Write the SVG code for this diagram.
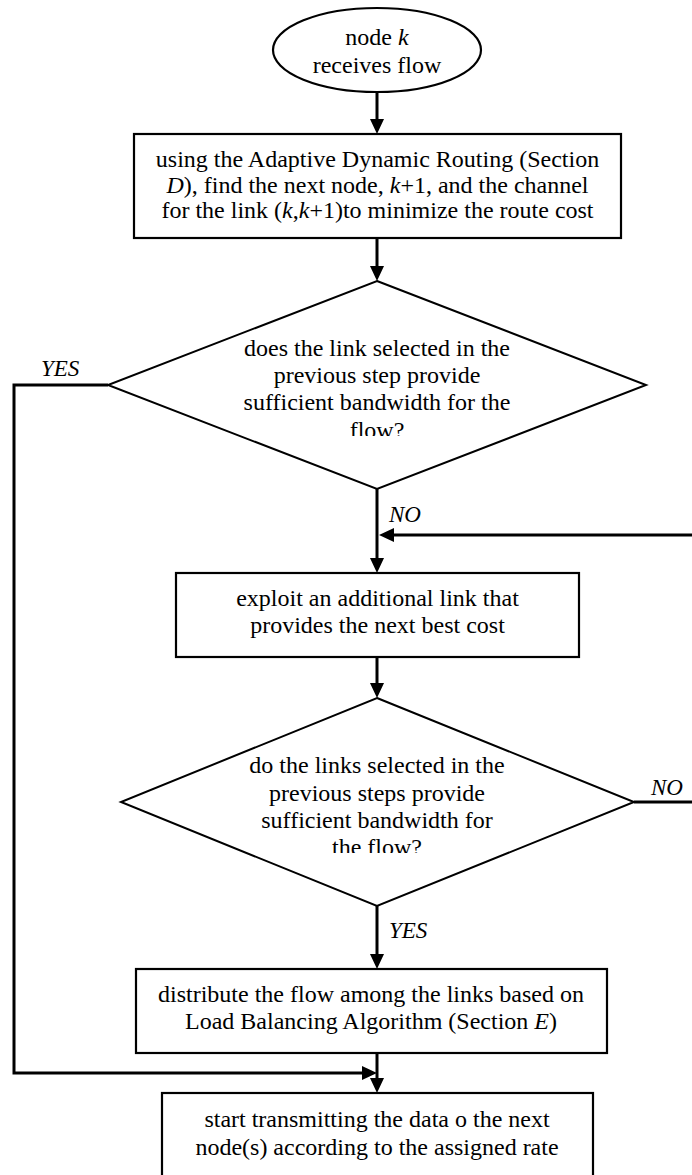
<svg xmlns="http://www.w3.org/2000/svg" width="692" height="1175" viewBox="0 0 692 1175">
<style>
.n{fill:#fff;stroke:#000;stroke-width:2.2}
.d{fill:#fff;stroke:#000;stroke-width:2}
.t{font-family:"Liberation Serif","Times New Roman",serif;font-size:24px;fill:#000;text-anchor:middle}
.lbl{font-family:"Liberation Serif","Times New Roman",serif;font-size:23px;font-style:italic;fill:#000}
.c{fill:none;stroke:#000;stroke-width:3}
.i{font-style:italic}
</style>
<defs>
<marker id="ah" viewBox="0 0 15 14" refX="0" refY="7" markerWidth="15" markerHeight="14" markerUnits="userSpaceOnUse" orient="auto">
<path d="M0,0 L15,7 L0,14 z" fill="#000"/>
</marker>
<clipPath id="clip1" clipPathUnits="userSpaceOnUse"><rect x="0" y="0" width="692" height="436"/></clipPath>
<clipPath id="clip2" clipPathUnits="userSpaceOnUse"><rect x="0" y="0" width="692" height="853"/></clipPath>
</defs>
<rect width="692" height="1175" fill="#fff"/>

<g id="connectors">
<path class="c" d="M377,92 V119" marker-end="url(#ah)"/>
<path class="c" d="M377,238 V266" marker-end="url(#ah)"/>
<path class="c" d="M377,489 V558" marker-end="url(#ah)"/>
<path class="c" d="M634,802 H697 V535 H394" marker-end="url(#ah)"/>
<path class="c" d="M377,657 V683" marker-end="url(#ah)"/>
<path class="c" d="M377,906 V954" marker-end="url(#ah)"/>
<path class="c" d="M377,1053 V1078" marker-end="url(#ah)"/>
<path class="c" d="M108,385 H14 V1073 H362" marker-end="url(#ah)"/>
<text class="lbl" x="41" y="376">YES</text>
<text class="lbl" x="389" y="522">NO</text>
<text class="lbl" x="651" y="795">NO</text>
<text class="lbl" x="389" y="938">YES</text>
</g>

<g id="start">
<ellipse class="n" cx="377" cy="50" rx="104" ry="42"/>
<text class="t" x="377" y="45">node <tspan class="i">k</tspan></text>
<text class="t" x="377" y="73">receives flow</text>
</g>

<g id="routing">
<rect class="n" x="134" y="134" width="487" height="104"/>
<text class="t" x="377.5" y="167">using the Adaptive Dynamic Routing (Section</text>
<text class="t" x="377.5" y="193"><tspan class="i">D</tspan>), find the next node, <tspan class="i">k</tspan>+1, and the channel</text>
<text class="t" x="377.5" y="218">for the link (<tspan class="i">k</tspan>,<tspan class="i">k</tspan>+1)to minimize the route cost</text>
</g>

<g id="decision1">
<polygon class="d" points="377,281 646,385 377,489 108,385"/>
<text class="t" x="377" y="356">does the link selected in the</text>
<text class="t" x="377" y="383">previous step provide</text>
<text class="t" x="377" y="410">sufficient bandwidth for the</text>
<text class="t" x="377" y="438" clip-path="url(#clip1)">flow?</text>
</g>

<g id="exploit">
<rect class="n" x="176" y="573" width="403" height="84"/>
<text class="t" x="377.5" y="606">exploit an additional link that</text>
<text class="t" x="377.5" y="633">provides the next best cost</text>
</g>

<g id="decision2">
<polygon class="d" points="377,698 634,802 377,906 121,802"/>
<text class="t" x="377" y="773">do the links selected in the</text>
<text class="t" x="377" y="801">previous steps provide</text>
<text class="t" x="377" y="828">sufficient bandwidth for</text>
<text class="t" x="377" y="855" clip-path="url(#clip2)">the flow?</text>
</g>

<g id="distribute">
<rect class="n" x="136" y="969" width="471" height="84"/>
<text class="t" x="371" y="1002">distribute the flow among the links based on</text>
<text class="t" x="371" y="1029">Load Balancing Algorithm (Section <tspan class="i">E</tspan>)</text>
</g>

<g id="transmit">
<rect class="n" x="162" y="1093" width="431" height="95"/>
<text class="t" x="377" y="1127">start transmitting the data o the next</text>
<text class="t" x="377" y="1155">node(s) according to the assigned rate</text>
</g>
</svg>
